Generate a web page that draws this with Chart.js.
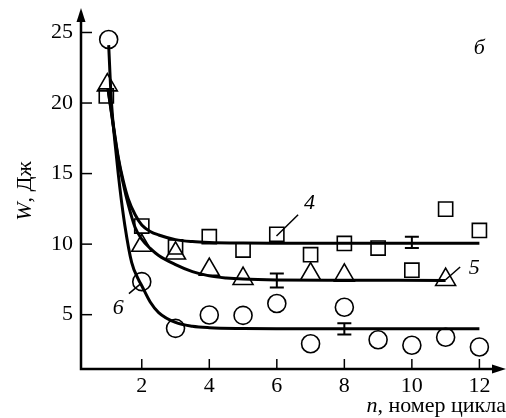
<!DOCTYPE html>
<html>
<head>
<meta charset="utf-8">
<script src="https://cdn.jsdelivr.net/npm/chart.js@4/dist/chart.umd.min.js"></script>
<style>
html,body{margin:0;padding:0;background:#fff;}
#c{display:block;}
</style>
</head>
<body>
<canvas id="c" width="506" height="418"></canvas>
<script>
// ---- data ----
const xTicks = [2, 4, 6, 8, 10, 12];
const yTicks = [5, 10, 15, 20, 25];

// series 4 (squares)
const nSquare = [0.95, 2, 3, 4, 5, 6, 7, 8, 9, 10, 11, 12];
const wSquare = [20.5, 11.28, 9.8, 10.53, 9.58, 10.7, 9.25, 10.05, 9.72, 8.15, 12.48, 10.97];
// series 5 (triangles)
const nTriangle = [0.98, 2, 3, 4, 5, 7, 8, 11];
const wTriangle = [21.27, 9.9, 9.35, 8.2, 7.55, 7.88, 7.78, 7.48];
// series 6 (circles)
const nCircle = [1.02, 2, 3, 4, 5, 6, 7, 8, 9, 10, 11, 12];
const wCircle = [24.5, 7.34, 4.03, 4.98, 4.95, 5.79, 2.94, 5.53, 3.22, 2.83, 3.4, 2.71];

// fitted curves
const fitN4 = [1.0, 1.1, 1.3, 1.45, 1.6, 1.8, 2, 2.25, 2.5, 3, 3.5, 4, 5, 6, 8, 10, 12];
const fitW4 = [21.0, 19.4, 16.2, 14.5, 13.2, 12.1, 11.35, 10.9, 10.65, 10.32, 10.18, 10.12, 10.08, 10.07, 10.07, 10.07, 10.07];
const fitN5 = [1.0, 1.1, 1.3, 1.45, 1.6, 1.8, 2, 2.25, 2.5, 3, 3.5, 4, 4.5, 5, 6, 8, 11];
const fitW5 = [21.0, 19.3, 16.1, 14.3, 12.8, 11.2, 10.35, 9.7, 9.2, 8.55, 8.05, 7.75, 7.6, 7.52, 7.46, 7.44, 7.43];
const fitN6 = [1.02, 1.1, 1.25, 1.35, 1.5, 1.7, 1.9, 2, 2.25, 2.5, 3, 3.5, 4, 5, 6, 8, 10, 12];
const fitW6 = [24.1, 20.1, 16.2, 14.0, 11.3, 8.7, 7.5, 7.05, 5.9, 5.15, 4.45, 4.18, 4.08, 4.02, 4.0, 4.0, 4.0, 4.0];

// error bars
const errN = [10, 6, 8];
const errW = [10.12, 7.42, 4.0];
const errD = [0.4, 0.5, 0.4];

// curve labels
const curveLabels = ['4', '5', '6'];

const pts = (xs, ys) => xs.map((x, i) => ({x: x, y: ys[i]}));
const FONT = '"Liberation Serif", "DejaVu Serif", "Times New Roman", serif';

const markerBase = {
  showLine: false,
  borderColor: '#000',
  backgroundColor: 'rgba(0,0,0,0)',
  pointBackgroundColor: 'rgba(0,0,0,0)',
  pointBorderColor: '#000',
  pointBorderWidth: 1.6
};
const lineBase = {
  showLine: true,
  borderColor: '#000',
  borderWidth: 3,
  pointRadius: 0,
  fill: false,
  cubicInterpolationMode: 'monotone'
};

const decor = {
  id: 'decor',
  afterDraw(chart) {
    const ctx = chart.ctx;
    const xs = chart.scales.x, ys = chart.scales.y;
    const a = chart.chartArea;
    ctx.save();
    ctx.strokeStyle = '#000';
    ctx.fillStyle = '#000';
    // axes
    ctx.lineWidth = 2.5;
    ctx.beginPath();
    ctx.moveTo(a.left, 14 + 6);
    ctx.lineTo(a.left, a.bottom);
    ctx.lineTo(497, a.bottom);
    ctx.stroke();
    // arrowheads
    ctx.beginPath();
    ctx.moveTo(a.left, 8); ctx.lineTo(a.left - 4.5, 22); ctx.lineTo(a.left + 4.5, 22); ctx.closePath(); ctx.fill();
    ctx.beginPath();
    ctx.moveTo(506, a.bottom); ctx.lineTo(492, a.bottom - 4.5); ctx.lineTo(492, a.bottom + 4.5); ctx.closePath(); ctx.fill();
    // inward ticks
    ctx.lineWidth = 1.5;
    xTicks.forEach(v => {
      const px = xs.getPixelForValue(v);
      ctx.beginPath(); ctx.moveTo(px, a.bottom); ctx.lineTo(px, a.bottom - 10); ctx.stroke();
    });
    yTicks.forEach(v => {
      const py = ys.getPixelForValue(v);
      ctx.beginPath(); ctx.moveTo(a.left, py); ctx.lineTo(a.left + 11, py); ctx.stroke();
    });
    // error bars
    ctx.lineWidth = 2;
    errN.forEach((n, i) => {
      const px = xs.getPixelForValue(n);
      const y1 = ys.getPixelForValue(errW[i] + errD[i]);
      const y2 = ys.getPixelForValue(errW[i] - errD[i]);
      ctx.beginPath();
      ctx.moveTo(px, y1); ctx.lineTo(px, y2);
      ctx.moveTo(px - 7, y1); ctx.lineTo(px + 7, y1);
      ctx.moveTo(px - 7, y2); ctx.lineTo(px + 7, y2);
      ctx.stroke();
    });
    // leader lines
    const leaders = [
      [5.99, 10.58, 6.63, 12.08],
      [10.99, 7.46, 11.43, 8.38],
      [1.62, 6.49, 1.98, 7.22]
    ];
    ctx.lineWidth = 1.5;
    leaders.forEach(l => {
      ctx.beginPath();
      ctx.moveTo(xs.getPixelForValue(l[0]), ys.getPixelForValue(l[1]));
      ctx.lineTo(xs.getPixelForValue(l[2]), ys.getPixelForValue(l[3]));
      ctx.stroke();
    });
    // curve labels
    const labPos = [[6.97, 12.9], [11.85, 8.26], [1.30, 5.49]];
    ctx.font = 'italic 22px ' + FONT;
    ctx.textAlign = 'center';
    ctx.textBaseline = 'middle';
    curveLabels.forEach((t, i) => {
      ctx.fillText(t, xs.getPixelForValue(labPos[i][0]), ys.getPixelForValue(labPos[i][1]));
    });
    ctx.fillText('б', xs.getPixelForValue(12.0), ys.getPixelForValue(23.85));
    // x title
    ctx.textAlign = 'left';
    ctx.textBaseline = 'alphabetic';
    const base = 412;
    ctx.font = '22px ' + FONT;
    const rest = ', номер цикла';
    const wr = ctx.measureText(rest).width;
    ctx.font = 'italic 22px ' + FONT;
    const wn = ctx.measureText('n').width;
    const x0 = 506 - wr - wn;
    ctx.fillText('n', x0, base);
    ctx.font = '22px ' + FONT;
    ctx.fillText(rest, x0 + wn, base);
    // y title
    ctx.save();
    ctx.translate(31, 191);
    ctx.rotate(-Math.PI / 2);
    ctx.font = 'italic 22px ' + FONT;
    const wW = ctx.measureText('W').width;
    ctx.font = '22px ' + FONT;
    const wD = ctx.measureText(', Дж').width;
    const sx = -(wW + wD) / 2;
    ctx.font = 'italic 22px ' + FONT;
    ctx.fillText('W', sx, 0);
    ctx.font = '22px ' + FONT;
    ctx.fillText(', Дж', sx + wW, 0);
    ctx.restore();
    ctx.restore();
  }
};

new Chart(document.getElementById('c'), {
  type: 'scatter',
  data: {
    datasets: [
      Object.assign({label: 'fit4', data: pts(fitN4, fitW4)}, lineBase),
      Object.assign({label: 'fit5', data: pts(fitN5, fitW5)}, lineBase),
      Object.assign({label: 'fit6', data: pts(fitN6, fitW6)}, lineBase),
      Object.assign({label: '4', data: pts(nSquare, wSquare), pointStyle: 'rect', pointRadius: 10}, markerBase),
      Object.assign({label: '5', data: pts(nTriangle, wTriangle), pointStyle: 'triangle', pointRadius: 11.5}, markerBase),
      Object.assign({label: '6', data: pts(nCircle, wCircle), pointStyle: 'circle', pointRadius: 9}, markerBase)
    ]
  },
  options: {
    responsive: false,
    animation: false,
    devicePixelRatio: 1,
    clip: false,
    layout: {padding: {top: 14, right: 8, left: 0, bottom: 0}},
    plugins: {legend: {display: false}, tooltip: {enabled: false}},
    scales: {
      x: {
        type: 'linear',
        min: 0.2,
        max: 12.4,
        afterFit: s => { s.height = 49; },
        afterBuildTicks: s => { s.ticks = xTicks.map(v => ({value: v})); },
        grid: {display: false, drawTicks: false},
        border: {display: false},
        ticks: {color: '#000', font: {family: FONT, size: 22}, padding: 4, callback: v => String(v)}
      },
      y: {
        type: 'linear',
        min: 1.15,
        max: 25.8,
        afterFit: s => { s.width = 81; },
        afterBuildTicks: s => { s.ticks = yTicks.map(v => ({value: v})); },
        grid: {display: false, drawTicks: false},
        border: {display: false},
        ticks: {color: '#000', font: {family: FONT, size: 22}, padding: 8, callback: v => String(v)}
      }
    }
  },
  plugins: [decor]
});
</script>
</body>
</html>
